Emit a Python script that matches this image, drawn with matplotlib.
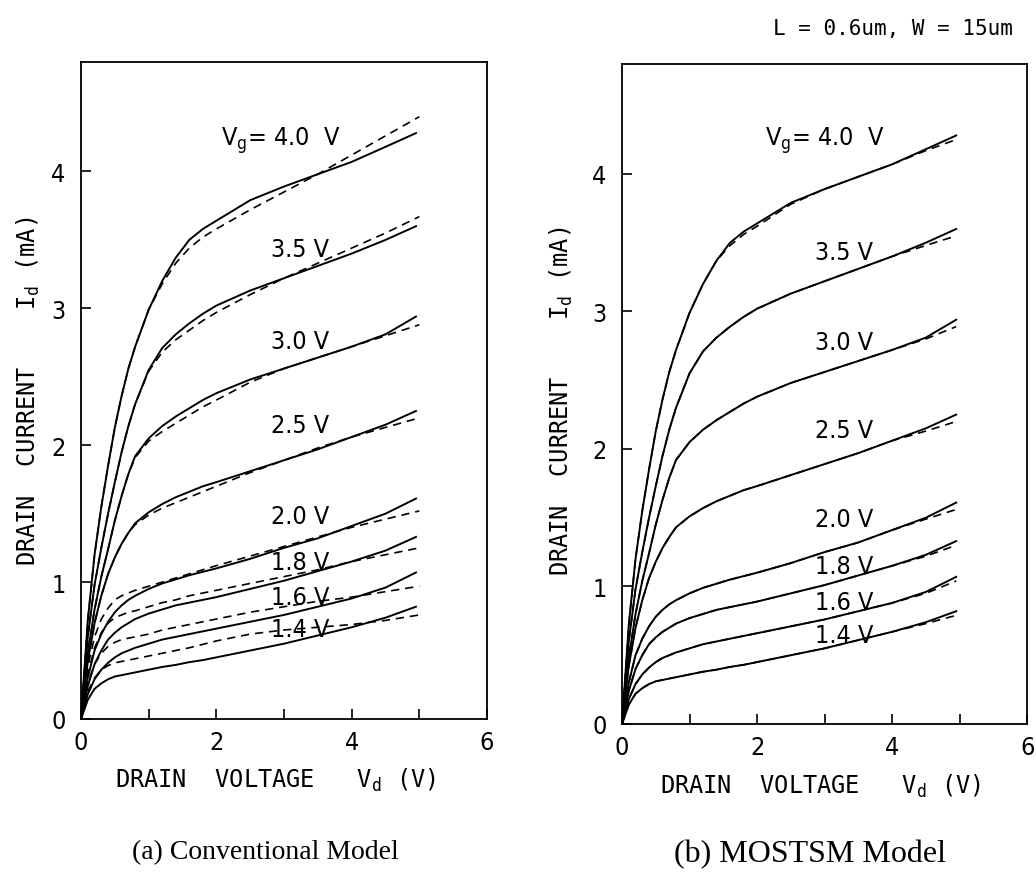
import matplotlib
matplotlib.use("Agg")
import matplotlib.pyplot as plt

# drain voltage grid (V)
vd = [0, 0.1, 0.2, 0.3, 0.4, 0.5, 0.6, 0.7, 0.8, 1.0, 1.2, 1.4, 1.6, 1.8, 2.0, 2.5, 3.0, 3.5, 4.0, 4.5, 4.95]
vd_conv = [0, 0.1, 0.2, 0.3, 0.4, 0.5, 0.6, 0.7, 0.8, 1.0, 1.2, 1.4, 1.6, 1.8, 2.0, 2.5, 3.0, 3.5, 4.0, 4.5, 5.0]

vg_names = ["4.0", "3.5", "3.0", "2.5", "2.0", "1.8", "1.6", "1.4"]

# measured drain current (mA), solid lines, same in both panels
meas_40 = [0, 0.72, 1.20, 1.55, 1.85, 2.13, 2.36, 2.56, 2.72, 2.99, 3.20, 3.37, 3.50, 3.58, 3.64, 3.79, 3.89, 3.98, 4.07, 4.18, 4.28]
meas_35 = [0, 0.60, 0.98, 1.25, 1.50, 1.73, 1.95, 2.14, 2.30, 2.55, 2.71, 2.81, 2.89, 2.96, 3.02, 3.13, 3.22, 3.31, 3.40, 3.50, 3.60]
meas_30 = [0, 0.48, 0.80, 1.04, 1.24, 1.45, 1.63, 1.79, 1.92, 2.05, 2.14, 2.21, 2.27, 2.33, 2.38, 2.48, 2.56, 2.64, 2.72, 2.81, 2.94]
meas_25 = [0, 0.42, 0.70, 0.90, 1.06, 1.18, 1.28, 1.36, 1.43, 1.51, 1.57, 1.62, 1.66, 1.70, 1.73, 1.81, 1.89, 1.97, 2.06, 2.15, 2.25]
meas_20 = [0, 0.30, 0.50, 0.62, 0.71, 0.78, 0.83, 0.87, 0.90, 0.95, 0.99, 1.02, 1.05, 1.075, 1.10, 1.17, 1.25, 1.32, 1.41, 1.50, 1.61]
meas_18 = [0, 0.24, 0.40, 0.50, 0.58, 0.63, 0.67, 0.70, 0.73, 0.77, 0.80, 0.83, 0.85, 0.87, 0.89, 0.95, 1.01, 1.08, 1.15, 1.23, 1.33]
meas_16 = [0, 0.18, 0.29, 0.36, 0.41, 0.45, 0.48, 0.50, 0.52, 0.55, 0.58, 0.60, 0.62, 0.64, 0.66, 0.71, 0.76, 0.82, 0.88, 0.96, 1.07]
meas_14 = [0, 0.14, 0.22, 0.26, 0.29, 0.31, 0.32, 0.33, 0.34, 0.36, 0.38, 0.395, 0.415, 0.43, 0.45, 0.50, 0.55, 0.61, 0.67, 0.74, 0.82]

# conventional model (dashed, left)
conv_40 = [0, 0.72, 1.20, 1.55, 1.85, 2.13, 2.36, 2.56, 2.72, 2.99, 3.18, 3.33, 3.44, 3.52, 3.58, 3.72, 3.85, 3.98, 4.12, 4.26, 4.40]
conv_35 = [0, 0.60, 0.98, 1.25, 1.50, 1.73, 1.95, 2.14, 2.30, 2.54, 2.68, 2.77, 2.84, 2.91, 2.97, 3.10, 3.22, 3.33, 3.44, 3.55, 3.67]
conv_30 = [0, 0.48, 0.80, 1.04, 1.24, 1.45, 1.63, 1.79, 1.91, 2.03, 2.10, 2.16, 2.22, 2.28, 2.33, 2.46, 2.56, 2.64, 2.72, 2.80, 2.88]
conv_25 = [0, 0.42, 0.70, 0.90, 1.06, 1.18, 1.28, 1.36, 1.42, 1.49, 1.54, 1.58, 1.62, 1.66, 1.70, 1.80, 1.89, 1.98, 2.06, 2.13, 2.20]
conv_20 = [0, 0.38, 0.60, 0.73, 0.81, 0.87, 0.90, 0.92, 0.94, 0.97, 1.00, 1.03, 1.06, 1.09, 1.12, 1.19, 1.26, 1.33, 1.40, 1.46, 1.52]
conv_18 = [0, 0.32, 0.52, 0.63, 0.70, 0.74, 0.76, 0.78, 0.79, 0.82, 0.85, 0.87, 0.90, 0.92, 0.94, 0.99, 1.04, 1.09, 1.15, 1.20, 1.25]
conv_16 = [0, 0.26, 0.40, 0.48, 0.53, 0.56, 0.58, 0.59, 0.60, 0.62, 0.65, 0.67, 0.69, 0.71, 0.73, 0.78, 0.82, 0.86, 0.89, 0.93, 0.97]
conv_14 = [0, 0.20, 0.30, 0.36, 0.39, 0.41, 0.42, 0.43, 0.44, 0.46, 0.48, 0.50, 0.52, 0.545, 0.57, 0.62, 0.65, 0.67, 0.69, 0.72, 0.76]

# MOSTSM model (dashed, right)
most_40 = [0, 0.72, 1.20, 1.55, 1.85, 2.13, 2.36, 2.56, 2.72, 2.99, 3.20, 3.37, 3.48, 3.56, 3.62, 3.78, 3.89, 3.98, 4.07, 4.17, 4.25]
most_35 = [0, 0.60, 0.98, 1.25, 1.50, 1.73, 1.95, 2.14, 2.30, 2.55, 2.71, 2.81, 2.89, 2.96, 3.02, 3.13, 3.22, 3.31, 3.40, 3.48, 3.55]
most_30 = [0, 0.48, 0.80, 1.04, 1.24, 1.45, 1.63, 1.79, 1.92, 2.05, 2.14, 2.21, 2.27, 2.33, 2.38, 2.48, 2.56, 2.64, 2.72, 2.80, 2.89]
most_25 = [0, 0.42, 0.70, 0.90, 1.06, 1.18, 1.28, 1.36, 1.43, 1.51, 1.57, 1.62, 1.66, 1.70, 1.73, 1.81, 1.89, 1.97, 2.06, 2.13, 2.20]
most_20 = [0, 0.30, 0.50, 0.62, 0.71, 0.78, 0.83, 0.87, 0.90, 0.95, 0.99, 1.02, 1.05, 1.075, 1.10, 1.17, 1.25, 1.32, 1.41, 1.49, 1.56]
most_18 = [0, 0.24, 0.40, 0.50, 0.58, 0.63, 0.67, 0.70, 0.73, 0.77, 0.80, 0.83, 0.85, 0.87, 0.89, 0.95, 1.01, 1.08, 1.15, 1.22, 1.30]
most_16 = [0, 0.18, 0.29, 0.36, 0.41, 0.45, 0.48, 0.50, 0.52, 0.55, 0.58, 0.60, 0.62, 0.64, 0.66, 0.71, 0.76, 0.82, 0.88, 0.95, 1.04]
most_14 = [0, 0.14, 0.22, 0.26, 0.29, 0.31, 0.32, 0.33, 0.34, 0.36, 0.38, 0.395, 0.415, 0.43, 0.45, 0.50, 0.55, 0.61, 0.67, 0.73, 0.79]

meas = [meas_40, meas_35, meas_30, meas_25, meas_20, meas_18, meas_16, meas_14]
conv = [conv_40, conv_35, conv_30, conv_25, conv_20, conv_18, conv_16, conv_14]
most = [most_40, most_35, most_30, most_25, most_20, most_18, most_16, most_14]

# label anchors (data units) for the Vg annotations
lab_y_left = [4.23, 3.43, 2.76, 2.15, 1.48, 1.15, 0.89, 0.66]
lab_y_right = [4.25, 3.43, 2.78, 2.14, 1.49, 1.15, 0.89, 0.65]

lab_font = "DejaVu Sans"
mono = "DejaVu Sans Mono"
serif = "Liberation Serif"

fig = plt.figure(figsize=(10.36, 8.78), dpi=100)
ax1 = fig.add_axes([0.0782, 0.180, 0.3919, 0.7483])
ax2 = fig.add_axes([0.6004, 0.1743, 0.3910, 0.7517])


def draw(ax, model, model_x, lab_y, lab_x):
    for i in range(len(vg_names)):
        ax.plot(vd, meas[i], color="black", lw=1.4, solid_joinstyle="round")
        ax.plot(model_x, model[i], color="black", lw=1.2, ls=(0, (5, 3.5)))
    for i, name in enumerate(vg_names):
        if i == 0:
            ax.text(lab_x - 1.17, lab_y[i], "V$_\\mathregular{g}$= " + name + "  V",
                    fontsize=18, family=lab_font, fontstretch="condensed",
                    ha="left", va="center")
        else:
            ax.text(lab_x, lab_y[i], name + " V", fontsize=18, family=lab_font,
                    fontstretch="condensed", ha="center", va="center")
    ax.set_xlim(0, 6)
    ax.set_ylim(0, 4.8)
    ax.set_xticks([0, 1, 2, 3, 4, 5, 6])
    ax.set_xticklabels(["0", "", "2", "", "4", "", "6"])
    ax.set_yticks([0, 1, 2, 3, 4])
    ax.tick_params(direction="in", length=7, width=1.2, labelsize=18)
    ax.tick_params(axis="x", pad=8)
    ax.tick_params(axis="y", pad=11)
    for lbl in ax.get_xticklabels() + ax.get_yticklabels():
        lbl.set_family(lab_font)
        lbl.set_fontstretch("condensed")
    for sp in ax.spines.values():
        sp.set_linewidth(1.3)
    ax.set_xlabel("DRAIN  VOLTAGE   V$_\\mathregular{d}$ (V)", family=mono, fontsize=17)
    ax.set_ylabel("DRAIN  CURRENT    I$_\\mathregular{d}$ (mA)", family=mono, fontsize=17)


draw(ax1, conv, vd_conv, lab_y_left, 3.24)
draw(ax2, most, vd, lab_y_right, 3.29)

ax1.xaxis.set_label_coords(0.48, -0.072)
ax2.xaxis.set_label_coords(0.49, -0.072)
ax1.yaxis.set_label_coords(-0.095, 0.5)
ax2.yaxis.set_label_coords(-0.115, 0.49)

fig.text(1013 / 1036, 1 - 29 / 878, "L = 0.6um, W = 15um", family=mono, fontsize=15,
         ha="right", va="center")
fig.text(265 / 1036, 1 - 853 / 878, "(a) Conventional Model", family=serif, fontsize=20,
         ha="center", va="center")
fig.text(810 / 1036, 1 - 855 / 878, "(b) MOSTSM Model", family=serif, fontsize=23,
         ha="center", va="center")

fig.savefig("out.png", dpi=100)
